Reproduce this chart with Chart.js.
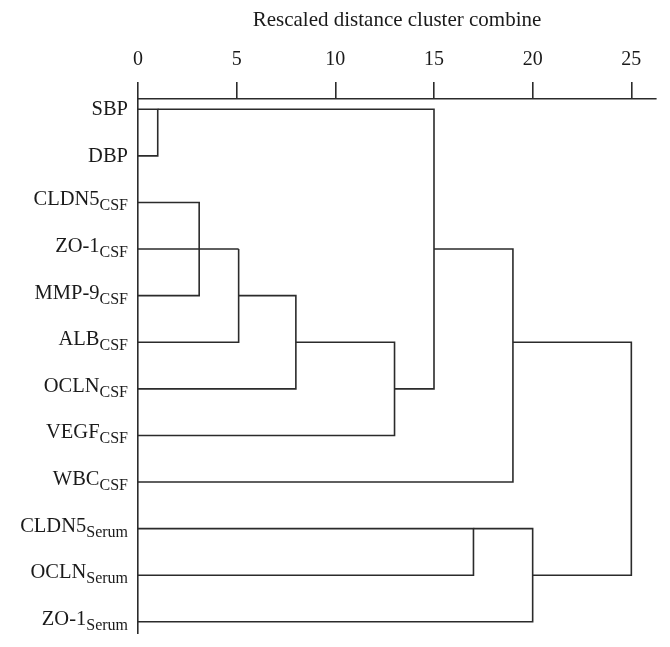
<!DOCTYPE html>
<html>
<head>
<meta charset="utf-8">
<script src="https://cdn.jsdelivr.net/npm/chart.js@4/dist/chart.umd.min.js"></script>
<style>
  html, body { margin: 0; padding: 0; background: #fff; }
  #wrap { width: 670px; height: 647px; }
</style>
</head>
<body>
<div id="wrap"><canvas id="dendro" width="670" height="647"></canvas></div>
<script>
// leaves, top to bottom
const leafNames = ["SBP", "DBP", "CLDN5", "ZO-1", "MMP-9", "ALB", "OCLN", "VEGF", "WBC", "CLDN5", "OCLN", "ZO-1"];
const leafSubs  = ["", "", "CSF", "CSF", "CSF", "CSF", "CSF", "CSF", "CSF", "Serum", "Serum", "Serum"];

// agglomeration steps: ids 0..11 are leaves, step k creates node 12 + k
const mergeLeft     = [0, 2, 3, 14, 15, 16, 12, 18, 9, 20, 19];
const mergeRight    = [1, 4, 13, 5, 6, 7, 17, 8, 10, 11, 21];
const mergeDistance = [1, 3.1, 5.1, 5.1, 8, 13, 15, 19, 17, 20, 25];

const xTicks = [0, 5, 10, 15, 20, 25];

const LINE = "#2b2b2b";
const SERIF = "'Liberation Serif', 'Times New Roman', serif";

/* ---- build the bracket paths ---- */
const nodeRow = leafNames.map((_, i) => i);
const nodeDist = leafNames.map(() => 0);
const datasets = [];

mergeLeft.forEach((a, k) => {
    const b = mergeRight[k];
    const d = mergeDistance[k];
    datasets.push({
        data: [
            { x: nodeDist[a], y: nodeRow[a] },
            { x: d, y: nodeRow[a] },
            { x: d, y: nodeRow[b] },
            { x: nodeDist[b], y: nodeRow[b] }
        ],
        showLine: true,
        borderColor: LINE,
        borderWidth: 1.6,
        pointRadius: 0,
        tension: 0,
        fill: false
    });
    nodeRow.push(Math.floor((nodeRow[a] + nodeRow[b]) / 2));
    nodeDist.push(d);
});

/* ---- leaf labels with subscripts ---- */
const leafLabelPlugin = {
    id: "leafLabels",
    afterDraw(chart) {
        const ctx = chart.ctx;
        const yScale = chart.scales.y;
        const right = chart.chartArea.left - 10;
        ctx.save();
        ctx.fillStyle = "#1a1a1a";
        ctx.textBaseline = "alphabetic";
        ctx.textAlign = "left";
        leafNames.forEach((name, i) => {
            const y = yScale.getPixelForValue(i);
            const sub = leafSubs[i];
            ctx.font = "20.5px " + SERIF;
            const wMain = ctx.measureText(name).width;
            ctx.font = "16px " + SERIF;
            const wSub = sub ? ctx.measureText(sub).width : 0;
            const x0 = right - wMain - wSub;
            const base = sub ? y + 3 : y + 6;
            ctx.font = "20.5px " + SERIF;
            ctx.fillText(name, x0, base);
            if (sub) {
                ctx.font = "16px " + SERIF;
                ctx.fillText(sub, x0 + wMain, base + 5);
            }
        });
        ctx.restore();
    }
};

new Chart(document.getElementById("dendro"), {
    type: "scatter",
    data: { datasets },
    plugins: [leafLabelPlugin],
    options: {
        responsive: false,
        animation: false,
        layout: { padding: { left: 138, right: 14, top: 0, bottom: 14 } },
        plugins: { legend: { display: false }, tooltip: { enabled: false } },
        scales: {
            x: {
                type: "linear",
                position: "top",
                min: 0,
                max: 26.25,
                afterFit: scale => { scale.height = 99; },
                afterBuildTicks: scale => { scale.ticks = xTicks.map(v => ({ value: v })); },
                ticks: {
                    includeBounds: false,
                    padding: 10,
                    color: "#1a1a1a",
                    font: { family: SERIF, size: 20 }
                },
                grid: {
                    drawOnChartArea: false,
                    drawTicks: true,
                    tickLength: 17,
                    color: LINE,
                    lineWidth: 1.6
                },
                border: { display: true, color: LINE, width: 1.6 },
                title: {
                    display: true,
                    text: "Rescaled distance cluster combine",
                    color: "#1a1a1a",
                    font: { family: SERIF, size: 21 },
                    padding: { top: 8, bottom: 0 }
                }
            },
            y: {
                type: "linear",
                reverse: true,
                min: -0.22,
                max: 11.24,
                afterFit: scale => { scale.width = 0; },
                ticks: { display: false },
                grid: { display: false },
                border: { display: true, color: LINE, width: 1.6 }
            }
        }
    }
});
</script>
</body>
</html>
